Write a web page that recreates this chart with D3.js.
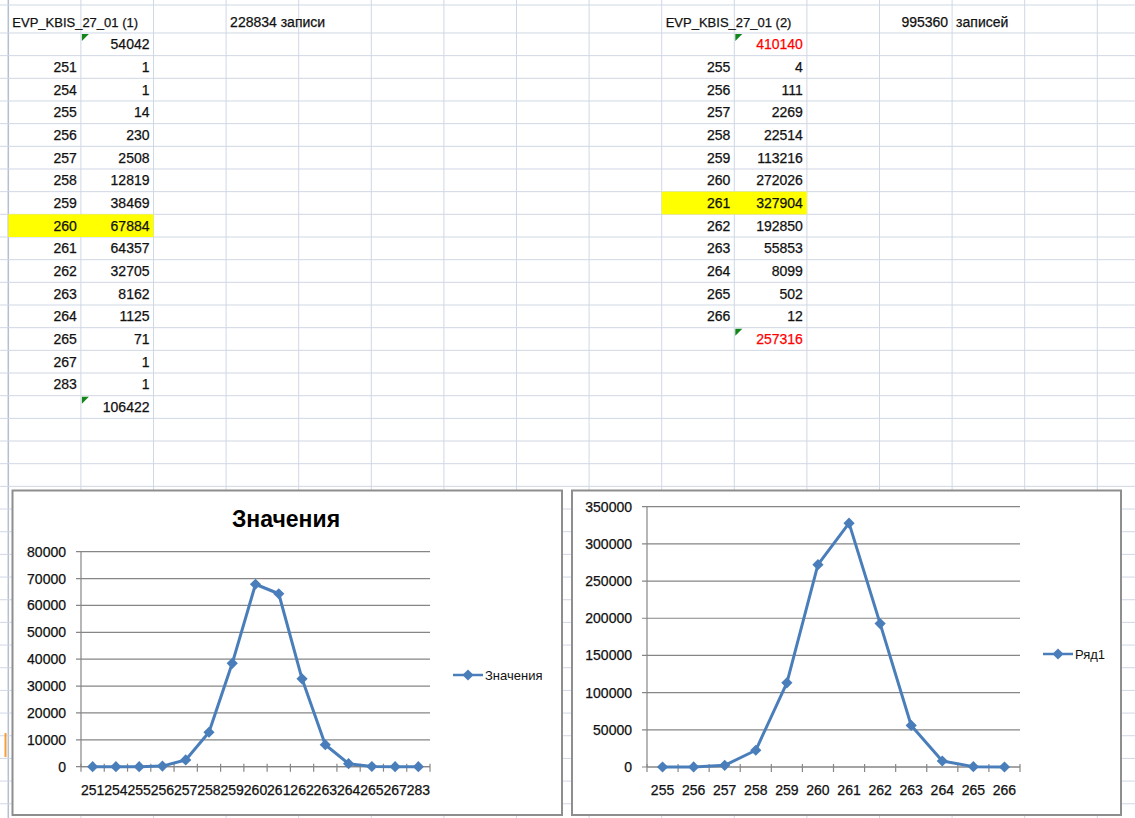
<!DOCTYPE html>
<html>
<head>
<meta charset="utf-8">
<script src="https://cdn.jsdelivr.net/npm/d3@7"></script>
<style>
  body { margin: 0; background: #fff; }
  svg { display: block; font-family: "Liberation Sans", Arial, sans-serif; }
</style>
</head>
<body>
<svg id="sheet" width="1135" height="818"></svg>
<script>
// left table / chart data
const leftTitle = "EVP_KBIS_27_01 (1)";
const leftCount = "228834 записи";
const leftCats = [251, 254, 255, 256, 257, 258, 259, 260, 261, 262, 263, 264, 265, 267, 283];
const leftVals = [1, 1, 14, 230, 2508, 12819, 38469, 67884, 64357, 32705, 8162, 1125, 71, 1, 1];
const leftTopVal = 54042;
const leftBottomVal = 106422;
const leftPeak = 260;
const leftYTicks = [0, 10000, 20000, 30000, 40000, 50000, 60000, 70000, 80000];

// right table / chart data
const rightTitle = "EVP_KBIS_27_01 (2)";
const rightCountNum = "995360";
const rightCountWord = "записей";
const rightCats = [255, 256, 257, 258, 259, 260, 261, 262, 263, 264, 265, 266];
const rightVals = [4, 111, 2269, 22514, 113216, 272026, 327904, 192850, 55853, 8099, 502, 12];
const rightTopVal = 410140;
const rightBottomVal = 257316;
const rightPeak = 261;
const rightYTicks = [0, 50000, 100000, 150000, 200000, 250000, 300000, 350000];

const W = 1135, H = 818;
const colW = 72.6, col0 = 8.3;
const rowH = 22.67, row0 = 10.3;
const colX = k => col0 + k * colW;
const rowY = r => row0 + r * rowH;
const blue = "#4a7ebb";

const svg = d3.select("#sheet");

// ---- spreadsheet grid ----
const grid = svg.append("g");
for (let k = 0; k * colW + col0 <= W; k++) {
  grid.append("line")
    .attr("x1", colX(k)).attr("x2", colX(k))
    .attr("y1", 0).attr("y2", H)
    .attr("stroke", k === 0 ? "#b4bfd0" : "#d0d7e5").attr("stroke-width", k === 0 ? 1.5 : 1);
}
grid.append("line").attr("x1", 0).attr("x2", W).attr("y1", 5).attr("y2", 5)
  .attr("stroke", "#d0d7e5");
for (let r = 1; rowY(r) <= H; r++) {
  grid.append("line")
    .attr("x1", 0).attr("x2", W)
    .attr("y1", rowY(r)).attr("y2", rowY(r))
    .attr("stroke", "#d0d7e5");
}
// orange row header mark
grid.append("rect").attr("x", 4.5).attr("y", 733).attr("width", 2).attr("height", 24).attr("fill", "#f59d3d");

// ---- table cells ----
function drawTable(c, title, cats, vals, topVal, bottomVal, peak, redTotals) {
  const g = svg.append("g");
  const peakRow = cats.indexOf(peak) + 2;
  g.append("rect")
    .attr("x", colX(c)).attr("y", rowY(peakRow))
    .attr("width", colW * 2).attr("height", rowH)
    .attr("fill", "#ffff00");

  const cellText = (r, k, txt, anchor, color, size) => {
    const x = anchor === "end" ? colX(k + 1) - 4 : colX(k) + 4;
    g.append("text")
      .attr("x", x).attr("y", rowY(r) + rowH / 2 + 5)
      .attr("text-anchor", anchor)
      .attr("font-size", size || 14)
      .attr("fill", color || "#111")
      .attr("stroke", color || "#111").attr("stroke-width", 0.25)
      .text(txt);
  };
  const flag = r => {
    const x = colX(c + 1) + 1, y = rowY(r) + 1;
    g.append("path")
      .attr("d", `M${x},${y}L${x + 7},${y}L${x},${y + 7}Z`)
      .attr("fill", "#13861b");
  };

  cellText(0, c, title, "start", "#111", 13);
  cellText(1, c + 1, topVal, "end", redTotals ? "#ff0000" : "#111");
  flag(1);
  cats.forEach((cat, i) => {
    cellText(i + 2, c, cat, "end");
    cellText(i + 2, c + 1, vals[i], "end");
  });
  const last = cats.length + 2;
  cellText(last, c + 1, bottomVal, "end", redTotals ? "#ff0000" : "#111");
  flag(last);
  return cellText;
}

const leftCell = drawTable(0, leftTitle, leftCats, leftVals, leftTopVal, leftBottomVal, leftPeak, false);
leftCell(0, 3, leftCount, "start");
const rightCell = drawTable(9, rightTitle, rightCats, rightVals, rightTopVal, rightBottomVal, rightPeak, true);
rightCell(0, 12, rightCountNum, "end");
rightCell(0, 13, rightCountWord, "start");

// ---- charts ----
function drawChart(o) {
  const g = svg.append("g");
  g.append("rect")
    .attr("x", o.box[0]).attr("y", o.box[1])
    .attr("width", o.box[2] - o.box[0]).attr("height", o.box[3] - o.box[1])
    .attr("fill", "#fff").attr("stroke", "#8e8e8e").attr("stroke-width", 2);

  const x = d3.scaleBand().domain(o.cats).range([o.plot.left, o.plot.right]);
  const y = d3.scaleLinear().domain([0, d3.max(o.yTicks)]).range([o.plot.bottom, o.plot.top]);

  // gridlines
  g.append("g").selectAll("line").data(o.yTicks).join("line")
    .attr("x1", o.plot.left - 5).attr("x2", o.plot.right)
    .attr("y1", d => y(d)).attr("y2", d => y(d))
    .attr("stroke", "#868686").attr("stroke-width", 1.2);

  // y axis labels
  const yAxis = g.append("g")
    .attr("transform", `translate(${o.plot.left},0)`)
    .call(d3.axisLeft(y).tickValues(o.yTicks).tickSize(5).tickPadding(o.yPad).tickFormat(d3.format("d")));
  yAxis.select(".domain").remove();
  yAxis.selectAll("line").remove();
  yAxis.selectAll("text").attr("font-size", 14).attr("font-family", "Liberation Sans, Arial, sans-serif")
    .attr("fill", "#111").attr("stroke", "#111").attr("stroke-width", 0.25);

  // axis lines
  g.append("line")
    .attr("x1", o.plot.left).attr("x2", o.plot.left)
    .attr("y1", o.plot.top).attr("y2", o.plot.bottom)
    .attr("stroke", "#868686").attr("stroke-width", 1.2);
  g.append("line")
    .attr("x1", o.plot.left).attr("x2", o.plot.right)
    .attr("y1", o.plot.bottom).attr("y2", o.plot.bottom)
    .attr("stroke", "#868686").attr("stroke-width", 1.2);

  // category boundary ticks
  const bounds = o.cats.map(c => x(c)).concat([o.plot.right]);
  g.append("g").selectAll("line").data(bounds).join("line")
    .attr("x1", d => d).attr("x2", d => d)
    .attr("y1", o.plot.bottom - 3).attr("y2", o.plot.bottom + 5)
    .attr("stroke", "#868686").attr("stroke-width", 1.2);

  // x labels
  g.append("g").selectAll("text").data(o.cats).join("text")
    .attr("x", d => x(d) + x.bandwidth() / 2)
    .attr("y", o.plot.bottom + 28)
    .attr("text-anchor", "middle")
    .attr("font-size", 14).attr("fill", "#111")
    .attr("stroke", "#111").attr("stroke-width", 0.25)
    .text(d => d);

  const cx = d => x(d) + x.bandwidth() / 2;
  const pts = o.cats.map((c, i) => [cx(c), y(o.vals[i])]);
  g.append("path")
    .attr("d", d3.line()(pts))
    .attr("fill", "none").attr("stroke", blue)
    .attr("stroke-width", 3).attr("stroke-linejoin", "round");
  const diamond = d3.symbol().type(d3.symbolDiamond2).size(80);
  g.append("g").selectAll("path").data(pts).join("path")
    .attr("transform", d => `translate(${d[0]},${d[1]})`)
    .attr("d", diamond).attr("fill", blue);

  // legend
  const lg = g.append("g");
  lg.append("line")
    .attr("x1", o.legend[0]).attr("x2", o.legend[0] + 30)
    .attr("y1", o.legend[1]).attr("y2", o.legend[1])
    .attr("stroke", blue).attr("stroke-width", 2.5);
  lg.append("path")
    .attr("transform", `translate(${o.legend[0] + 15},${o.legend[1]})`)
    .attr("d", diamond).attr("fill", blue);
  lg.append("text")
    .attr("x", o.legend[0] + 32).attr("y", o.legend[1] + 4.5)
    .attr("font-size", 13).attr("fill", "#111")
    .text(o.series);

  if (o.title) {
    g.append("text")
      .attr("x", o.titlePos[0]).attr("y", o.titlePos[1])
      .attr("text-anchor", "middle")
      .attr("font-size", 23).attr("font-weight", "bold").attr("fill", "#000")
      .text(o.title);
  }
}

drawChart({
  box: [12.5, 490.5, 562, 815],
  plot: { left: 81, right: 430, top: 551.7, bottom: 766.7 },
  cats: leftCats, vals: leftVals, yTicks: leftYTicks,
  yPad: 10, legend: [453, 675], series: "Значения",
  title: "Значения", titlePos: [286, 527]
});

drawChart({
  box: [572, 490.5, 1121, 815],
  plot: { left: 647, right: 1020, top: 506.7, bottom: 767 },
  cats: rightCats, vals: rightVals, yTicks: rightYTicks,
  yPad: 10, legend: [1043, 654], series: "Ряд1"
});
</script>
</body>
</html>
